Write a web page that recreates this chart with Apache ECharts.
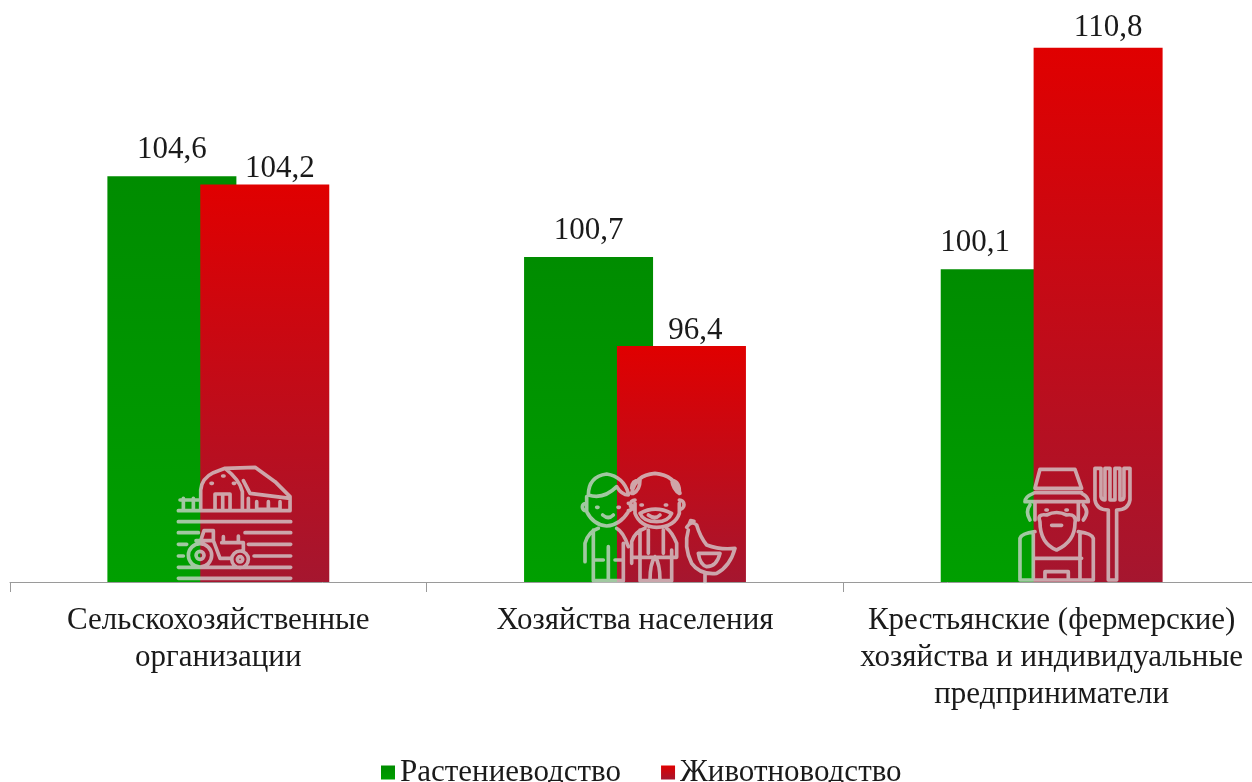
<!DOCTYPE html>
<html>
<head>
<meta charset="utf-8">
<style>
  html, body { margin: 0; padding: 0; background: #fff; overflow: hidden; }
  /* ось уходит за правый край окна, поэтому контейнер шире */
  #chart { width: 1280px; height: 782px; }
</style>
<script src="https://cdn.jsdelivr.net/npm/echarts@6/dist/echarts.min.js"></script>
</head>
<body>
<div id="chart"></div>
<script>
const categories = [
  'Сельскохозяйственные\nорганизации',
  'Хозяйства населения',
  'Крестьянские (фермерские)\nхозяйства и индивидуальные\nпредприниматели'
];
const cropValues = [104.6, 100.7, 100.1];
const livestockValues = [104.2, 96.4, 110.8];
const cropLabelShift = [0, 0, -30];
const livestockLabelShift = [15, 14, 10];
const livestockLabelLift = [0, 0, -4];

const FONT = '"Liberation Serif", "Times New Roman", serif';
const TEXT = '#1a1a1a';

// иконки в координатах увеличенного фрагмента (масштаб 3x)
const farmIcon =
  'M122 182V120Q125 85 160 68L195 55Q240 90 247 125V182' +
  'M195 55L285 52L345 95L390 140V182M250 92L270 130L390 145M265 145V182' +
  'M290 155V178H360V155M325 155V178' +
  'M165 182V132H210V182M188 132V182' +
  'M153 100h4M188 78h4M220 100h4' +
  'M55 182H390M60 150H120M70 145V182M100 145V182' +
  'M55 215H392M55 248H115M255 248H392M55 283H80M265 283H392M55 318H70M282 318H392M55 352H392M55 385H392' +
  'M85 316a35 35 0 1 0 70 0a35 35 0 1 0 -70 0M108 316a12 12 0 1 0 24 0a12 12 0 1 0 -24 0' +
  'M215 328a25 25 0 1 0 50 0a25 25 0 1 0 -50 0M232 328a8 8 0 1 0 16 0a8 8 0 1 0 -16 0' +
  'M108 272H160V242H132L122 272M160 272L180 325H215M185 278H250V305M190 260V278M235 258V278';

const peopleIcon =
  'M85 135Q85 80 140 72Q190 80 205 130M80 140V185Q100 225 140 228Q180 225 205 185' +
  'M85 135Q130 150 170 110Q185 135 205 135' +
  'M78 160a11 11 0 1 0 0 22M205 160a11 11 0 1 1 0 22' +
  'M110 172h4M174 172h4M128 195Q145 210 160 195' +
  'M75 335V280Q85 245 115 235M205 290Q190 245 170 235M100 240V392M145 290V392M190 280V392M100 392H190M100 330H130M165 330H190' +
  'M215 130Q225 75 285 70Q345 75 360 130M225 160V190Q240 230 290 232Q345 230 358 190V160' +
  'M215 115Q215 90 240 90Q240 120 220 130M335 90Q360 95 358 130Q340 120 335 90' +
  'M225 150a11 11 0 1 0 0 28M358 150a11 11 0 1 1 0 28' +
  'M240 190Q285 165 335 190Q325 215 290 215Q250 215 240 190M243 165h4M316 165h4M265 195Q285 210 300 195' +
  'M215 340V275Q225 245 255 235M350 320V280Q335 245 320 235M240 240V392M335 300V392M240 392H335' +
  'M285 320Q270 340 270 392M285 320Q300 340 300 392M215 322H350M265 240V310M310 240V310' +
  'M380 232Q395 210 410 225Q420 260 440 285Q480 300 525 295Q510 350 470 370Q420 375 395 340Q370 290 385 240' +
  'M388 222L392 212L402 214M415 310H480Q470 350 440 350Q420 345 415 310M435 370V395';

const farmerIcon =
  'M105 115L120 58H225L245 115ZM105 128H245M100 130Q75 140 75 155H265Q265 140 245 130' +
  'M90 165Q75 185 90 210M250 165Q270 185 250 210M105 155V210M235 155V210' +
  'M120 215Q110 190 140 195Q170 180 200 195Q230 190 225 220Q225 275 170 300Q120 280 120 215' +
  'M155 226H185M138 180h4M198 180h4' +
  'M60 390V265Q65 250 105 245M280 390V265Q275 250 235 245M100 250V390M240 250V390M100 325H245M60 390H280M135 390V365H205V390' +
  'M285 55V150Q290 180 325 180V390H350V180Q385 180 390 150V55H372V140Q372 150 360 150V55H345V150H330V55H315V150Q305 150 303 140V55Z';

const icons = [farmIcon, peopleIcon, farmerIcon];
const iconOffsetX = [-58.3, -75, -51.7];

const greenGradient = new echarts.graphic.LinearGradient(0, 0, 0, 1, [
  { offset: 0, color: '#008c00' },
  { offset: 1, color: '#009f00' }
]);
const redGradient = new echarts.graphic.LinearGradient(0, 0, 0, 1, [
  { offset: 0, color: '#e00000' },
  { offset: 1, color: '#a5162f' }
]);

const valueLabel = p => String(p.value).replace('.', ',');

const chart = echarts.init(document.getElementById('chart'));
chart.setOption({
  animation: false,
  backgroundColor: '#fff',
  grid: { left: 10, top: 23, width: 1250, height: 559 },
  legend: {
    data: ['Растениеводство', 'Животноводство'],
    left: 376,
    top: 752,
    itemWidth: 14,
    itemHeight: 14,
    itemGap: 40,
    icon: 'rect',
    textStyle: { fontFamily: FONT, fontSize: 31, color: TEXT }
  },
  xAxis: {
    type: 'category',
    data: categories,
    axisLine: { lineStyle: { color: '#9a9a9a', width: 1 } },
    axisTick: { show: true, length: 10, lineStyle: { color: '#9a9a9a' } },
    axisLabel: { fontFamily: FONT, fontSize: 31, color: TEXT, lineHeight: 37, margin: 20, interval: 0 }
  },
  yAxis: { type: 'value', min: 85, max: 112, show: false },
  series: [
    {
      name: 'Растениеводство',
      type: 'bar',
      data: cropValues.map((v, i) => ({ value: v, label: { offset: [cropLabelShift[i], 0] } })),
      barWidth: 129,
      barGap: '-28%',
      itemStyle: { color: greenGradient },
      label: {
        show: true,
        position: 'top',
        distance: 11,
        fontFamily: FONT,
        fontSize: 31,
        color: TEXT,
        formatter: valueLabel
      }
    },
    {
      name: 'Животноводство',
      type: 'bar',
      data: livestockValues.map((v, i) => ({ value: v, label: { offset: [livestockLabelShift[i], livestockLabelLift[i]] } })),
      barWidth: 129,
      itemStyle: { color: redGradient },
      label: {
        show: true,
        position: 'top',
        distance: 0,
        fontFamily: FONT,
        fontSize: 31,
        color: TEXT,
        formatter: valueLabel
      }
    },
    {
      // иконки поверх столбцов
      type: 'custom',
      silent: true,
      z: 10,
      data: [0, 1, 2].map(i => [i, 85]),
      encode: { x: 0, y: 1 },
      renderItem: (params, api) => {
        const base = api.coord([api.value(0), api.value(1)]);
        const i = params.dataIndex;
        return {
          type: 'path',
          x: base[0] + iconOffsetX[i],
          y: base[1] - 132,
          scaleX: 1 / 3,
          scaleY: 1 / 3,
          shape: { pathData: icons[i] },
          style: { fill: 'none', stroke: 'rgba(215,215,215,0.75)', lineWidth: 11, lineJoin: 'round', lineCap: 'round' }
        };
      }
    }
  ]
});
</script>
</body>
</html>
